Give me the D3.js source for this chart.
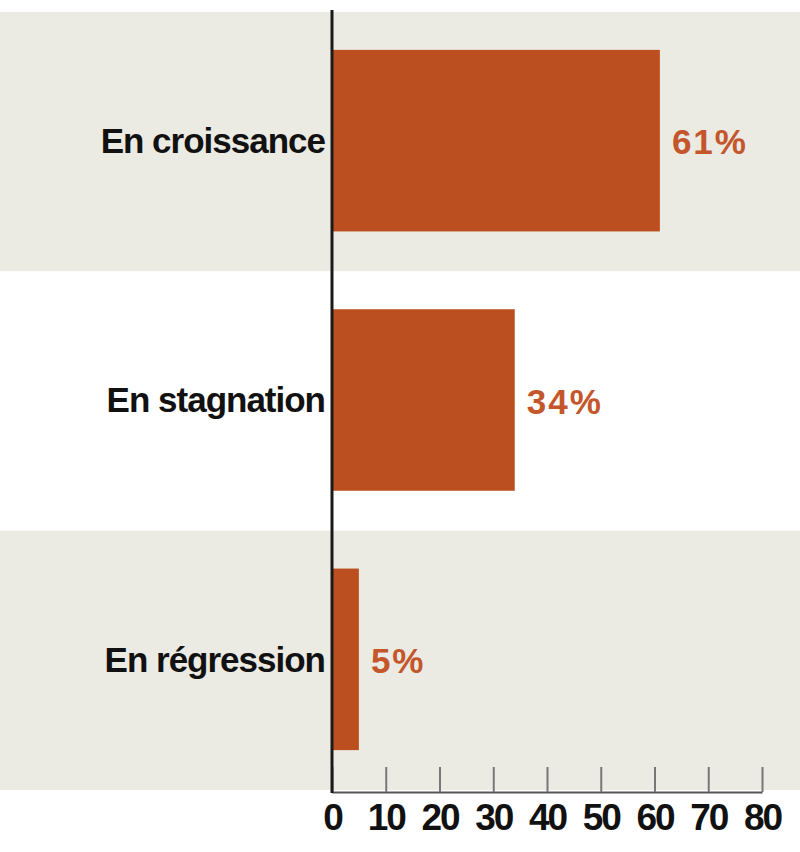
<!DOCTYPE html>
<html>
<head>
<meta charset="utf-8">
<script src="https://cdn.jsdelivr.net/npm/d3@7"></script>
<style>
  html, body { margin: 0; padding: 0; background: #fff; }
  svg { display: block; font-family: "Liberation Sans", Arial, sans-serif; }
</style>
</head>
<body>
<svg id="chart"></svg>
<script>
// data
const categories = ["En croissance", "En stagnation", "En régression"];
const values = [61, 34, 5];
const ticks = [0, 10, 20, 30, 40, 50, 60, 70, 80];
const bandShaded = [true, false, true];

const width = 800, height = 852;
const marginLeft = 332, marginRight = 38, marginTop = 12, marginBottom = 62;

const svg = d3.select("#chart")
    .attr("width", width)
    .attr("height", height)
    .attr("viewBox", [0, 0, width, height]);

const x = d3.scaleLinear()
    .domain([0, 80])
    .range([marginLeft, width - marginRight]);

const y = d3.scaleBand()
    .domain(categories)
    .range([marginTop, height - marginBottom])
    .padding(0);

const barH = y.bandwidth() * 0.7;

// background bands
svg.append("g")
  .selectAll("rect")
  .data(categories)
  .join("rect")
    .attr("x", 0)
    .attr("y", d => y(d))
    .attr("width", width)
    .attr("height", y.bandwidth())
    .attr("fill", (d, i) => bandShaded[i] ? "#ebeae3" : "#ffffff");

// bars
svg.append("g")
  .selectAll("rect")
  .data(categories)
  .join("rect")
    .attr("x", x(0))
    .attr("y", d => y(d) + (y.bandwidth() - barH) / 2 - 1)
    .attr("width", (d, i) => x(values[i]) - x(0))
    .attr("height", barH)
    .attr("fill", "#bb4f1f");

// value labels
svg.append("g")
  .selectAll("text")
  .data(categories)
  .join("text")
    .attr("x", (d, i) => x(values[i]) + 12)
    .attr("y", d => y(d) + y.bandwidth() / 2)
    .attr("dy", "0.36em")
    .attr("font-size", 35)
    .attr("font-weight", "bold")
    .attr("letter-spacing", 2)
    .attr("fill", "#c4562c")
    .text((d, i) => values[i] + "%");

// bottom axis: ticks point up
const xAxis = d3.axisBottom(x)
    .tickValues(ticks)
    .tickSize(-25)
    .tickSizeOuter(0)
    .tickPadding(12)
    .tickFormat(d3.format("d"));

svg.append("g")
    .attr("transform", `translate(0,${height - marginBottom + 2})`)
    .call(xAxis)
    .call(g => g.select(".domain").attr("stroke", "#555").attr("stroke-width", 2))
    .call(g => g.selectAll(".tick line").attr("stroke", "#777").attr("stroke-width", 2))
    .call(g => g.selectAll(".tick text")
        .attr("font-size", 37)
        .attr("font-weight", "bold")
        .attr("letter-spacing", -2)
        .attr("fill", "#111"));

// left axis: line with category labels
const yAxis = d3.axisLeft(y).tickSize(0).tickPadding(7);

svg.append("g")
    .attr("transform", `translate(${marginLeft},0)`)
    .call(yAxis)
    .call(g => g.select(".domain").remove())
    .call(g => g.selectAll(".tick text")
        .attr("font-size", 35)
        .attr("font-weight", "bold")
        .attr("letter-spacing", -1)
        .attr("fill", "#111"));

svg.append("line")
    .attr("x1", x(0)).attr("x2", x(0))
    .attr("y1", marginTop - 2)
    .attr("y2", height - marginBottom + 3)
    .attr("stroke", "#1a1a1a")
    .attr("stroke-width", 3);
</script>
</body>
</html>
